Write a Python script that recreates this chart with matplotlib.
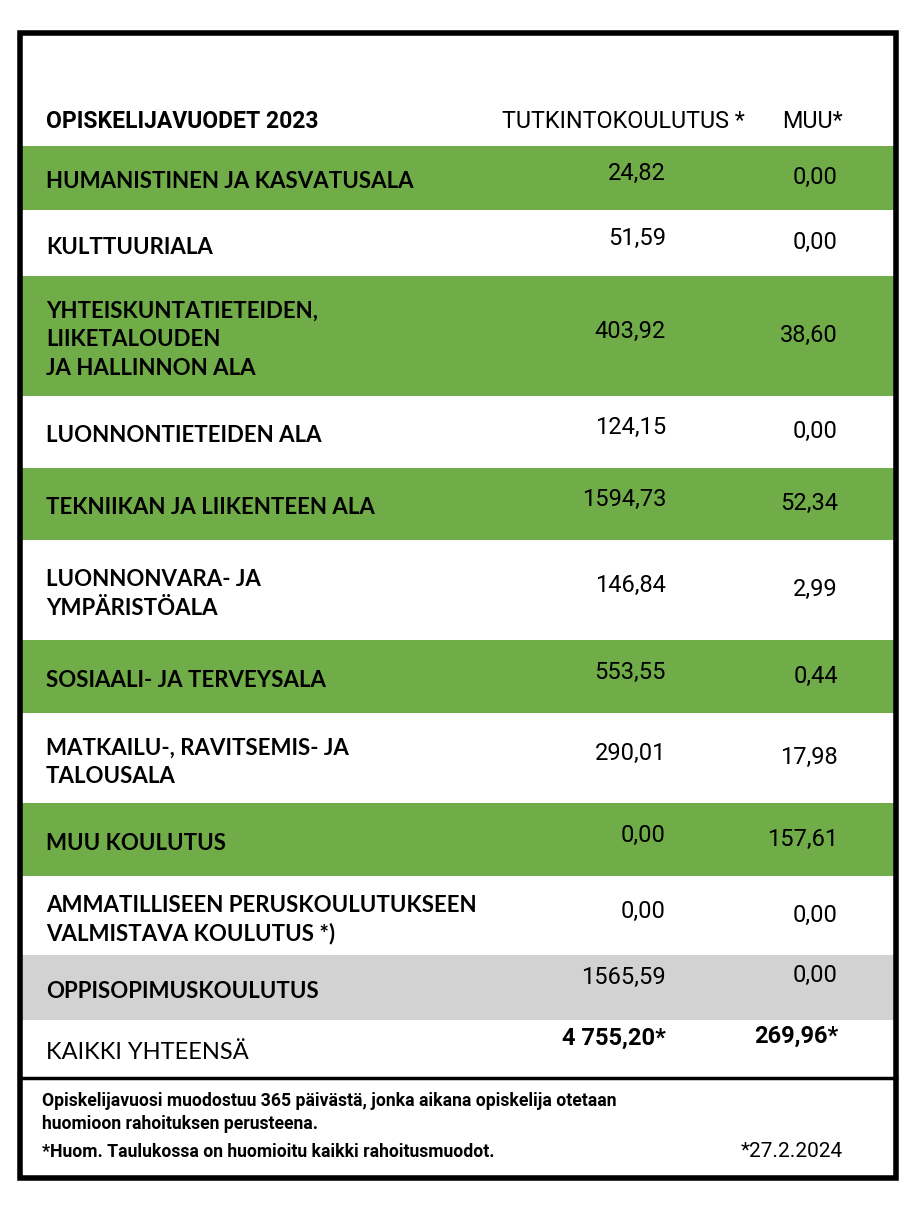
import matplotlib.pyplot as plt
from matplotlib.patches import Rectangle

# table content
header_title = "OPISKELIJAVUODET 2023"
col_titles = ["TUTKINTOKOULUTUS *", "MUU*"]
labels = [
    "HUMANISTINEN JA KASVATUSALA",
    "KULTTUURIALA",
    "YHTEISKUNTATIETEIDEN,\nLIIKETALOUDEN\nJA HALLINNON ALA",
    "LUONNONTIETEIDEN ALA",
    "TEKNIIKAN JA LIIKENTEEN ALA",
    "LUONNONVARA- JA\nYMPÄRISTÖALA",
    "SOSIAALI- JA TERVEYSALA",
    "MATKAILU-, RAVITSEMIS- JA\nTALOUSALA",
    "MUU KOULUTUS",
    "AMMATILLISEEN PERUSKOULUTUKSEEN\nVALMISTAVA KOULUTUS *)",
    "OPPISOPIMUSKOULUTUS",
]
tutkinto = [24.82, 51.59, 403.92, 124.15, 1594.73, 146.84, 553.55, 290.01, 0.00, 0.00, 1565.59]
muu = [0.00, 0.00, 38.60, 0.00, 52.34, 2.99, 0.44, 17.98, 157.61, 0.00, 0.00]
total_label = "KAIKKI YHTEENSÄ"
total_tutkinto = 4755.20
total_muu = 269.96
notes = ["Opiskelijavuosi muodostuu 365 päivästä, jonka aikana opiskelija otetaan",
         "huomioon rahoituksen perusteena.",
         "*Huom. Taulukossa on huomioitu kaikki rahoitusmuodot."]
date_note = "*27.2.2024"


def fi(v, group=False):
    # finnish number format: comma decimals, optional space thousands
    s = f"{v:,.2f}" if group else f"{v:.2f}"
    return s.replace(",", " ").replace(".", ",")


# layout (pixels)
W, H = 918, 1205
row_edges = [146, 210, 276, 396, 468, 540, 640, 713, 803, 876, 955, 1020, 1077]
green = "#70ac48"
gray = "#d2d2d2"
row_colors = [green, "white"] * 5 + [gray, "white"]

label_font = ["Lato", "DejaVu Sans"]
narrow_font = ["Liberation Sans Narrow", "Roboto", "DejaVu Sans"]

fig = plt.figure(figsize=(W / 100, H / 100), dpi=100)
ax = fig.add_axes([0, 0, 1, 1])
ax.set_xlim(0, W)
ax.set_ylim(H, 0)
ax.axis("off")

x_left, x_right = 20, 896
for i in range(len(row_edges) - 1):
    y0, y1 = row_edges[i], row_edges[i + 1]
    ax.add_patch(Rectangle((x_left, y0), x_right - x_left, y1 - y0,
                           facecolor=row_colors[i], edgecolor="none", zorder=1))

# outer frame and footer separator
ax.add_patch(Rectangle((20, 33), 876, 1145, facecolor="none",
                       edgecolor="black", linewidth=4, zorder=3))
ax.plot([20, 896], [1078, 1078], color="black", linewidth=2.5, zorder=3)

# header
ax.text(46, 128, header_title, fontsize=16.5, fontweight="bold",
        family=narrow_font, va="baseline", ha="left")
ax.text(745, 128, col_titles[0], fontsize=16.8,
        family=narrow_font, va="baseline", ha="right")
ax.text(843, 128, col_titles[1], fontsize=16.8,
        family=narrow_font, va="baseline", ha="right")

all_labels = labels + [total_label]
all_tut = [fi(v) for v in tutkinto] + [fi(total_tutkinto, True) + "*"]
all_muu = [fi(v) for v in muu] + [fi(total_muu, True) + "*"]

x_tut, x_muu = 666, 838
line_h = 28.5
for i, lab in enumerate(all_labels):
    mid = (row_edges[i] + row_edges[i + 1]) / 2
    lines = lab.split("\n")
    first = mid + 2 - line_h * (len(lines) - 1) / 2
    last = i == len(all_labels) - 1
    for k, ln in enumerate(lines):
        ax.text(46, first + k * line_h + 8.5, ln,
                fontsize=17 if last else 16,
                fontweight="normal" if last else "bold",
                family=label_font, va="baseline", ha="left", zorder=4)
    off_t = -12 if i >= len(labels) - 1 else -6
    off_m = -14 if i >= len(labels) - 1 else -2
    w = "bold" if last else "normal"
    ax.text(x_tut, mid + off_t + 8, all_tut[i], fontsize=17, fontweight=w,
            family=narrow_font, va="baseline", ha="right", zorder=4)
    ax.text(x_muu, mid + off_m + 8, all_muu[i], fontsize=17, fontweight=w,
            family=narrow_font, va="baseline", ha="right", zorder=4)

# footer notes
ax.text(42, 1106, notes[0], fontsize=12.7, fontweight="bold",
        family=narrow_font, va="baseline")
ax.text(42, 1129, notes[1], fontsize=12.7, fontweight="bold",
        family=narrow_font, va="baseline")
ax.text(42, 1157, notes[2], fontsize=12.7, fontweight="bold",
        family=narrow_font, va="baseline")
ax.text(843, 1157, date_note, fontsize=15,
        family=narrow_font, va="baseline", ha="right")

fig.savefig("out.png", dpi=100)
